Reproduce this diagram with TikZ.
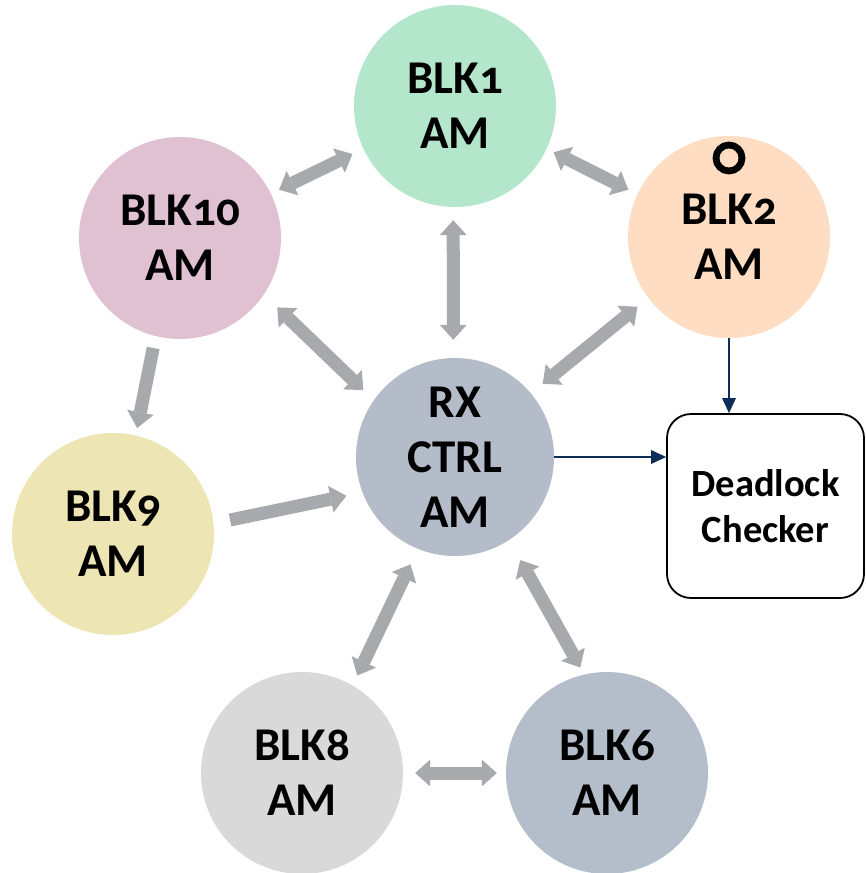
\documentclass[tikz,border=0pt]{standalone}
\usepackage{fontspec}
\setmainfont{Carlito}[Numbers=OldStyle]
\usetikzlibrary{arrows.meta}

\definecolor{arrowgray}{HTML}{A8A9AD}
\definecolor{linknavy}{HTML}{0E2D57}
\definecolor{cGreen}{HTML}{B3E6CB}
\definecolor{cPeach}{HTML}{FEDDC3}
\definecolor{cPink}{HTML}{DFC1D1}
\definecolor{cSand}{HTML}{EEE5B5}
\definecolor{cSlate}{HTML}{B3BCC8}
\definecolor{cLight}{HTML}{D9D9D9}
\definecolor{cBlue}{HTML}{B4BECB}

\begin{document}
\begin{tikzpicture}[x=1pt,y=-1pt,
  am/.style={circle, minimum size=202pt, inner sep=0pt, align=center,
             font=\fontsize{47}{55}\selectfont\bfseries},
  fat/.style={draw=arrowgray, line width=13pt},
  dbl/.style={fat, {Triangle[width=27pt,length=15pt,line width=0pt]}-{Triangle[width=27pt,length=15pt,line width=0pt]}},
  sgl/.style={fat, -{Triangle[width=27pt,length=16pt,line width=0pt]}},
  link/.style={draw=linknavy, line width=1.8pt, -{Triangle[width=14pt,length=15pt,line width=0pt]}}
]
\useasboundingbox (0,0) rectangle (866,873);

% agent nodes
\node[am, fill=cGreen] (blk1)  at (455,106) {BLK1\\AM};
\node[am, fill=cPeach] (blk2)  at (729,237) {BLK2\\AM};
\node[am, fill=cPink]  (blk10) at (180,238) {BLK10\\AM};
\node[am, fill=cSlate, minimum size=198pt] (rx) at (455,457) {RX\\CTRL\\AM};
\node[am, fill=cSand]  (blk9)  at (113,534) {BLK9\\AM};
\node[am, fill=cLight] (blk8)  at (302,773) {BLK8\\AM};
\node[am, fill=cBlue]  (blk6)  at (607,773) {BLK6\\AM};

% ring marker on BLK2
\node[circle, draw, line width=6.8pt, minimum size=26pt, inner sep=0pt] (mark) at (729,158) {};

% checker box
\node[draw, line width=1.8pt, rounded corners=24pt, minimum width=197pt,
      minimum height=184pt, align=center,
      font=\fontsize{38.5}{46}\selectfont\bfseries] (chk) at (765.5,506) {Deadlock\\Checker};

% gray block arrows
\draw[dbl, shorten <=9pt, shorten >=12pt]   (blk10.26)    -- (blk1.205);
\draw[dbl, shorten <=7.7pt, shorten >=10pt] (blk1.-25.6)  -- (blk2.155.3);
\draw[dbl, shorten <=13pt, shorten >=18pt]  (blk1.-91.7)  -- (rx.91.7);
\draw[dbl, shorten <=18.5pt, shorten >=14.5pt] (blk10.-34.1) -- (rx.145.1);
\draw[dbl, shorten <=14pt, shorten >=15pt]  (blk2.217.7)  -- (rx.40.4);
\draw[sgl, shorten <=12pt, shorten >=7.5pt] (blk10.256.2) -- (blk9.77.8);
\draw[sgl, shorten <=16.8pt, shorten >=16.3pt] (blk9.6.8)  -- (rx.201.9);
\draw[dbl, shorten <=17pt, shorten >=11pt]  (rx.248.3)    -- (blk8.60.7);
\draw[dbl, shorten <=22.8pt, shorten >=8pt] (rx.-57.7)    -- (blk6.103.3);
\draw[dbl, shorten <=12pt, shorten >=9pt]   (blk8)        -- (blk6);

% links into the checker
\draw[link] (blk2.south) -- (blk2.south |- chk.north);
\draw[link] (rx.east) -- (rx.east -| chk.west);
\end{tikzpicture}
\end{document}
